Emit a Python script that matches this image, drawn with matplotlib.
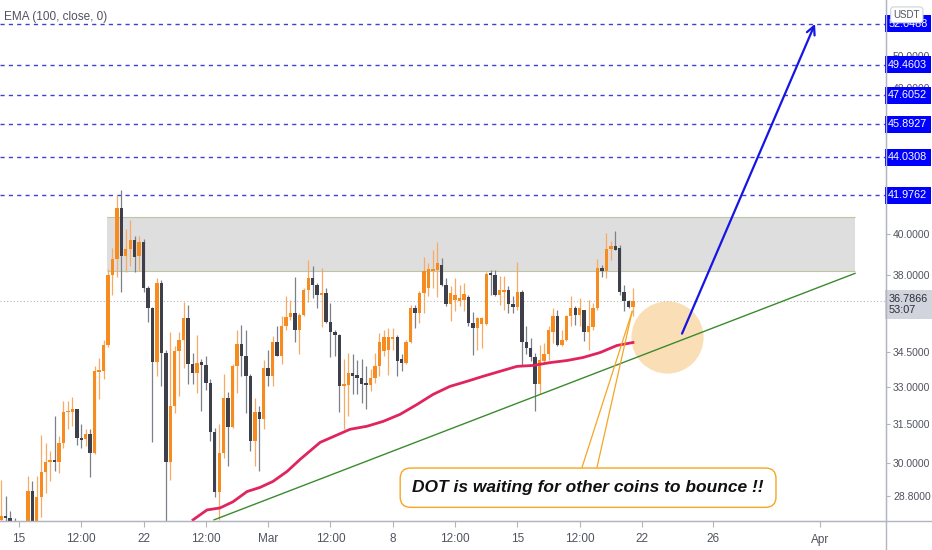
import numpy as np
import pandas as pd
import matplotlib
matplotlib.use('Agg')
import matplotlib.pyplot as plt
import matplotlib.transforms as mtransforms
from matplotlib.lines import Line2D
from matplotlib.ticker import FixedLocator, FixedFormatter, NullLocator

plt.rcParams['font.family'] = ['Liberation Sans', 'DejaVu Sans']

# DOT/USDT 6h candles
start_time = '2021-02-14 00:00'
opens = [27.95, 28.10, 28.02, 27.90, 27.20, 27.00, 27.50, 28.97, 27.80, 28.76,
         29.67, 30.05, 30.10, 30.06, 30.76, 31.99, 32.00, 32.10, 30.98, 30.92,
         31.11, 30.40, 33.64, 33.70, 34.82, 38.01, 38.78, 41.33, 38.92, 39.26,
         39.71, 38.90, 39.61, 37.40, 36.47, 34.08, 37.63, 34.47, 30.04, 32.22,
         34.56, 35.04, 36.02, 34.00, 33.62, 34.05, 33.95, 33.20, 31.19, 28.93,
         30.38, 32.58, 31.42, 33.88, 34.86, 34.34, 33.46, 30.84, 31.98, 31.70,
         33.80, 33.46, 34.95, 34.34, 35.66, 36.06, 36.24, 35.44, 36.15, 37.30,
         37.86, 37.54, 37.07, 37.16, 35.84, 35.35, 35.22, 33.04, 33.08, 33.62,
         33.50, 33.40, 33.20, 33.08, 33.41, 33.88, 34.52, 34.60, 35.08, 35.17,
         34.20, 34.04, 34.95, 36.47, 36.24, 37.16, 37.40, 38.16, 38.25, 38.49,
         37.54, 36.65, 36.84, 36.79, 36.84, 36.98, 35.79, 35.57, 35.75, 35.75,
         38.06, 38.00, 37.07, 37.20, 37.30, 36.65, 36.52, 37.21, 34.91, 34.69,
         34.26, 33.12, 34.13, 34.39, 35.39, 36.11, 34.82, 35.00, 36.11, 36.47,
         36.15, 36.38, 35.35, 35.61, 36.43, 38.35, 38.16, 39.26, 39.41, 39.30,
         37.21, 36.79, 36.52]
highs = [29.40, 28.80, 28.25, 28.00, 27.60, 27.80, 29.52, 29.34, 29.52, 31.07,
         30.79, 30.46, 31.83, 31.05, 32.43, 32.43, 32.60, 32.10, 31.53, 31.33,
         31.33, 33.89, 34.24, 35.04, 38.30, 39.30, 42.02, 42.28, 40.26, 40.70,
         39.90, 39.90, 39.76, 37.45, 36.52, 37.86, 37.77, 34.60, 35.35, 34.75,
         35.35, 36.75, 36.61, 34.46, 35.26, 34.20, 34.32, 33.33, 31.38, 31.50,
         33.54, 32.79, 33.96, 35.48, 35.70, 35.48, 33.54, 32.57, 32.24, 34.17,
         34.60, 35.19, 35.63, 36.08, 36.99, 36.84, 37.91, 36.23, 37.38, 38.73,
         38.40, 37.60, 38.35, 37.40, 36.70, 35.48, 35.30, 34.21, 34.46, 34.39,
         34.17, 34.20, 33.89, 33.75, 34.46, 35.33, 35.48, 35.55, 35.55, 35.26,
         34.39, 35.04, 36.61, 36.61, 37.23, 38.88, 38.57, 39.21, 39.61, 38.81,
         37.85, 37.47, 37.86, 37.54, 37.62, 37.07, 36.29, 36.05, 36.05, 38.12,
         38.25, 38.25, 37.93, 37.93, 37.45, 36.99, 38.63, 37.30, 35.63, 35.11,
         34.47, 34.82, 34.90, 35.63, 36.46, 36.38, 35.48, 36.15, 36.99, 36.53,
         36.91, 36.38, 36.84, 36.69, 38.78, 38.47, 40.06, 39.63, 40.13, 39.46,
         37.54, 36.84, 37.40]
lows = [27.60, 27.70, 27.50, 27.00, 26.60, 26.80, 27.30, 27.30, 27.60, 28.06,
        28.90, 29.34, 29.70, 29.63, 30.60, 31.31, 31.43, 30.69, 30.57, 30.66,
        29.50, 30.37, 32.53, 33.33, 34.70, 37.07, 37.90, 37.20, 38.15, 38.41,
        38.12, 38.16, 37.20, 35.80, 30.80, 33.46, 33.04, 27.80, 29.40, 31.97,
        32.63, 33.83, 33.16, 33.12, 32.78, 32.02, 32.91, 30.86, 28.77, 27.95,
        30.20, 29.89, 31.37, 32.78, 33.47, 31.97, 30.46, 29.90, 29.72, 31.31,
        33.05, 33.05, 34.32, 33.96, 35.48, 35.93, 34.95, 34.39, 36.07, 36.75,
        36.90, 36.47, 35.61, 35.79, 34.30, 34.32, 31.98, 31.31, 31.83, 32.71,
        32.71, 32.37, 32.10, 32.84, 33.20, 33.47, 34.32, 33.50, 34.60, 33.49,
        33.68, 34.00, 34.90, 35.55, 35.78, 36.24, 36.99, 37.40, 36.98, 37.46,
        36.53, 35.85, 36.30, 36.53, 36.30, 35.63, 34.35, 34.60, 34.67, 35.70,
        37.07, 37.02, 36.61, 36.38, 36.23, 36.23, 36.38, 33.88, 34.39, 34.10,
        32.02, 32.71, 34.03, 34.17, 34.90, 34.75, 34.75, 34.97, 35.63, 35.70,
        35.63, 34.97, 34.60, 35.48, 36.38, 37.90, 37.86, 38.73, 39.21, 37.07,
        36.30, 36.44, 36.10]
closes = [28.10, 28.02, 27.90, 27.20, 27.00, 27.50, 28.97, 27.80, 28.78, 29.67,
          30.05, 30.10, 30.07, 30.76, 31.99, 32.05, 32.10, 30.98, 30.90, 31.11,
          30.40, 33.68, 33.70, 34.82, 38.01, 38.78, 41.33, 38.92, 39.26, 39.71,
          38.87, 39.61, 37.40, 36.47, 34.08, 37.63, 34.47, 30.04, 32.22, 34.56,
          35.04, 36.02, 34.00, 33.62, 34.04, 33.95, 33.20, 31.19, 28.93, 30.38,
          32.58, 31.42, 33.88, 34.86, 34.34, 33.46, 30.84, 31.98, 31.70, 33.80,
          33.46, 34.95, 34.34, 35.66, 36.06, 36.24, 35.44, 36.15, 37.30, 37.86,
          37.54, 37.07, 37.16, 35.84, 35.35, 35.22, 33.04, 33.16, 33.62, 33.46,
          33.37, 33.12, 33.08, 33.41, 33.88, 34.95, 35.13, 35.17, 35.17, 34.13,
          34.04, 34.95, 36.47, 36.24, 37.16, 38.16, 38.30, 38.30, 38.59, 37.54,
          36.65, 37.16, 37.07, 36.93, 37.11, 35.79, 35.57, 36.02, 36.02, 38.06,
          38.00, 37.07, 37.30, 37.30, 36.65, 36.52, 37.21, 34.91, 34.65, 34.26,
          33.12, 34.17, 34.43, 35.48, 36.11, 34.82, 35.04, 36.11, 36.47, 36.15,
          36.47, 35.35, 35.66, 36.43, 38.35, 38.16, 39.26, 39.41, 39.21, 37.21,
          36.79, 36.52, 36.79]

# EMA(100) line as drawn on the chart
ema_times = ['2021-02-24 18:40', '2021-02-25 13:30', '2021-02-26 07:00', '2021-02-27 00:30',
             '2021-02-27 19:30', '2021-02-28 13:00', '2021-03-01 06:30', '2021-03-02 01:30',
             '2021-03-02 19:00', '2021-03-03 22:00', '2021-03-05 14:20', '2021-03-06 13:10',
             '2021-03-07 10:50', '2021-03-08 09:40', '2021-03-09 08:40', '2021-03-10 06:20',
             '2021-03-11 05:00', '2021-03-12 04:00', '2021-03-13 01:40', '2021-03-14 00:30',
             '2021-03-14 23:30', '2021-03-15 21:10', '2021-03-16 20:00', '2021-03-17 19:00',
             '2021-03-18 16:40', '2021-03-19 15:20', '2021-03-20 14:20', '2021-03-21 11:50']
ema_values = [27.95, 28.30, 28.37, 28.59, 28.96, 29.11, 29.33, 29.70, 30.15, 30.80,
              31.31, 31.43, 31.62, 31.90, 32.30, 32.71, 33.04, 33.25, 33.46, 33.67,
              33.88, 33.92, 34.04, 34.13, 34.26, 34.47, 34.78, 34.91]

# drawings
target_levels = [41.9762, 44.0308, 45.8927, 47.6052, 49.4603, 52.0488]
last_price = 36.7866
countdown = '53:07'
zone_times = ['2021-02-19 22:30', '2021-04-02 23:15']
zone_prices = [38.2, 40.87]
trend_times = ['2021-02-25 23:00', '2021-04-02 23:15']
trend_prices = [27.95, 38.07]
arrow_times = ['2021-03-24 06:00', '2021-03-31 17:20']
arrow_prices = [35.3, 52.05]
bounce_time, bounce_price = '2021-03-23 09:40', 35.13
note_text = 'DOT is waiting for other coins to bounce !!'
note_time, note_price = '2021-03-18 23:20', 29.1
callout_times = ['2021-03-18 15:10', '2021-03-19 11:20']
callout_top = 29.85
callout_tip_time, callout_tip_price = '2021-03-21 10:50', 36.3

price_ticks = [28.8, 30.0, 31.5, 33.0, 34.5, 38.0, 40.0, 48.0, 50.0]
time_ticks = ['2021-02-15 00:00', '2021-02-18 12:00', '2021-02-22 00:00', '2021-02-25 12:00',
              '2021-03-01 00:00', '2021-03-04 12:00', '2021-03-08 00:00', '2021-03-11 12:00',
              '2021-03-15 00:00', '2021-03-18 12:00', '2021-03-22 00:00', '2021-03-26 00:00',
              '2021-04-01 00:00']
time_labels = ['15', '12:00', '22', '12:00', 'Mar', '12:00', '8', '12:00',
               '15', '12:00', '22', '26', 'Apr']

ref = pd.Timestamp('2021-02-15')


def day(t):
    if isinstance(t, str):
        return (pd.Timestamp(t) - ref) / pd.Timedelta(days=1)
    return np.asarray((pd.DatetimeIndex(t) - ref) / pd.Timedelta(days=1))


up_body, down_body = '#f68b1f', '#3d404b'
up_wick, down_wick = '#f8aa62', '#7d8089'
grey_txt = '#50535e'
axis_grey = '#b2b5be'

fig = plt.figure(figsize=(9.32, 5.5), dpi=100)
ax = fig.add_axes([0, 29 / 550, 886 / 932, 521 / 550])
ax.set_yscale('log')
ax.set_xlim(-1.067, 48.71)
ax.set_ylim(27.91, 53.63)

x = day(pd.date_range(start_time, periods=len(closes), freq='6h'))
o = np.array(opens)
h = np.array(highs)
l = np.array(lows)
c = np.array(closes)
up = c >= o
bot = np.minimum(o, c)
top = np.maximum(o, c)
top = np.maximum(top, bot * 1.002)

ax.vlines(x, l, h, colors=np.where(up, up_wick, down_wick), lw=0.9, zorder=3)
ax.bar(x, top - bot, bottom=bot, width=0.19, color=np.where(up, up_body, down_body),
       lw=0, zorder=4)

# resistance zone
zx = day(zone_times)
ax.fill_between(zx, zone_prices[0], zone_prices[1], color='#d9d9d9', alpha=0.85,
                lw=0, zorder=1)
ax.hlines(zone_prices, zx[0], zx[1], color='#b9c7a3', lw=0.8, zorder=1.1)

# bounce circle
ax.scatter([day(bounce_time)], [bounce_price], s=2700, color='#f9d39c', alpha=0.75,
           lw=0, zorder=1.5)

# EMA and trend line
ax.plot(day(ema_times), ema_values, color='#e0245e', lw=2, zorder=5)
ax.plot(day(trend_times), trend_prices, color='#3b8a2e', lw=1, zorder=5)

# target levels
for lv in target_levels:
    ax.axhline(lv, color='#3f3fd6', lw=1, ls=(0, (3, 3)), zorder=2)
ax.axhline(last_price, color='#b8b8b8', lw=0.8, ls=(0, (1, 2)), zorder=2)

# arrow
ax.annotate('', xy=(day(arrow_times[1]), arrow_prices[1]),
            xytext=(day(arrow_times[0]), arrow_prices[0]),
            arrowprops=dict(arrowstyle='->', color='#1515e6', lw=1.6,
                            mutation_scale=15, shrinkA=0, shrinkB=0), zorder=6)

# callout
for ct in callout_times:
    ax.plot([day(ct), day(callout_tip_time)], [callout_top, callout_tip_price],
            color='#f5a623', lw=0.9, zorder=6)
ax.text(day(note_time), note_price, note_text, ha='center', va='center',
        fontsize=12.5, fontweight='bold', fontstyle='italic', color='#111111',
        bbox=dict(boxstyle='round,pad=0.7,rounding_size=0.6', fc='white',
                  ec='#f5a623', lw=1), zorder=7)

# axes styling
for s in ['top', 'left']:
    ax.spines[s].set_visible(False)
ax.spines['bottom'].set_color(axis_grey)
ax.spines['right'].set_color(axis_grey)

ax.yaxis.tick_right()
ax.yaxis.set_major_locator(FixedLocator(price_ticks))
ax.yaxis.set_major_formatter(FixedFormatter([f'{v:.4f}' for v in price_ticks]))
ax.yaxis.set_minor_locator(NullLocator())
ax.tick_params(axis='y', length=3, color=axis_grey, labelcolor=grey_txt,
               labelsize=7.5, pad=2)

ax.set_xticks(day(time_ticks))
ax.set_xticklabels(time_labels)
ax.tick_params(axis='x', length=4, color=axis_grey, labelcolor=grey_txt,
               labelsize=8.5, pad=5)

# price labels on the axis
yt = mtransforms.blended_transform_factory(ax.transAxes, ax.transData)
for lv in target_levels:
    ax.text(1.0025, lv, f'{lv:.4f}', transform=yt, ha='left', va='center',
            fontsize=7.8, color='white', clip_on=False, zorder=10,
            bbox=dict(boxstyle='square,pad=0.32', fc='#0000ff', ec='none'))
ax.annotate(f'{last_price:.4f}\n{countdown}', xy=(1.0, last_price), xycoords=yt,
            xytext=(2, 5), textcoords='offset points', ha='left', va='top',
            fontsize=7.8, color='#2a2e39', linespacing=1.2, annotation_clip=False,
            bbox=dict(boxstyle='square,pad=0.38', fc='#d1d4dc', ec='none'), zorder=10)
ax.text(0.973, 0.973, 'USDT', transform=fig.transFigure, ha='center', va='center',
        fontsize=7, color=grey_txt, zorder=11,
        bbox=dict(boxstyle='round,pad=0.3', fc='white', ec='#d0d3da', lw=0.8))

ax.text(0.005, 0.968, 'EMA (100, close, 0)', transform=ax.transAxes, ha='left',
        va='center', fontsize=8.5, color=grey_txt, zorder=11)

# axis frame lines reaching into the scale areas
fig.add_artist(Line2D([0, 1], [29 / 550, 29 / 550], color=axis_grey, lw=1,
                      transform=fig.transFigure))
fig.add_artist(Line2D([886 / 932, 886 / 932], [0, 1], color=axis_grey, lw=1,
                      transform=fig.transFigure))

fig.savefig('out.png', dpi=100)
